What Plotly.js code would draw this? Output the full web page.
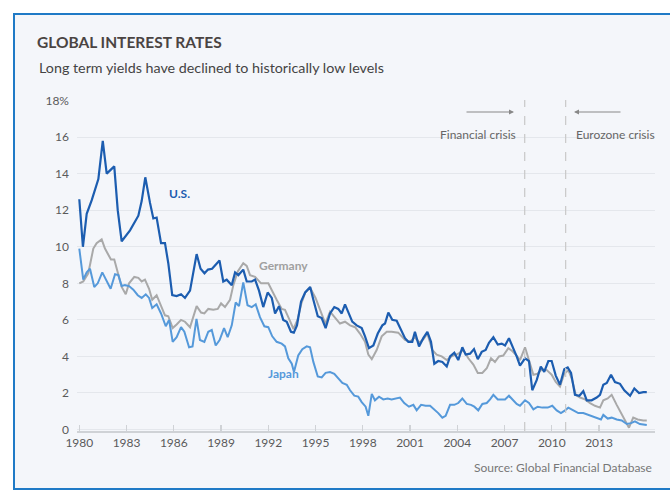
<!DOCTYPE html>
<html>
<head>
<meta charset="utf-8">
<script src="https://cdn.plot.ly/plotly-3.0.1.min.js"></script>
<style>
  html, body { margin:0; padding:0; background:#ffffff; width:670px; height:491px; overflow:hidden; }
  #frame { position:absolute; left:13px; top:13px; width:700px; height:473px;
           border-top:2px solid #1f7ac6; border-left:2px solid #1f7ac6; border-bottom:2px solid #1f7ac6;
           background:#f4f6fa; }
  #chart { position:absolute; left:0; top:0; width:670px; height:491px; }
</style>
</head>
<body>
<div id="frame"></div>
<div id="chart"></div>
<script>
// ---- Data (decimal years, percent) ----
const usYear = [1980.00,1980.23,1980.47,1980.79,1981.21,1981.49,1981.74,1982.22,1982.44,1982.69,1983.22,1983.75,1983.96,1984.19,1984.49,1984.70,1984.91,1985.19,1985.44,1985.65,1985.90,1986.18,1986.46,1986.71,1987.03,1987.45,1987.70,1987.95,1988.17,1988.43,1988.90,1989.14,1989.36,1989.68,1989.89,1990.10,1990.41,1990.63,1990.95,1991.16,1991.41,1991.68,1991.96,1992.22,1992.43,1992.68,1992.95,1993.17,1993.44,1993.62,1993.82,1994.08,1994.34,1994.66,1994.86,1995.14,1995.39,1995.64,1995.92,1996.19,1996.44,1996.66,1996.87,1997.08,1997.33,1997.61,1997.93,1998.14,1998.39,1998.67,1998.95,1999.24,1999.41,1999.62,1999.87,2000.15,2000.36,2000.68,2000.89,2001.14,2001.31,2001.57,2001.84,2002.10,2002.33,2002.54,2002.79,2003.05,2003.33,2003.54,2003.81,2004.06,2004.32,2004.53,2004.81,2005.06,2005.30,2005.55,2005.80,2006.01,2006.29,2006.57,2006.82,2007.03,2007.28,2007.56,2007.77,2007.98,2008.30,2008.55,2008.76,2009.04,2009.30,2009.52,2009.78,2009.99,2010.25,2010.52,2010.79,2011.01,2011.22,2011.47,2011.75,2012.00,2012.22,2012.53,2012.85,2013.06,2013.27,2013.49,2013.76,2014.01,2014.33,2014.60,2014.97,2015.24,2015.54,2015.81,2016.03];
const usRate = [12.6,10.0,11.8,12.55,13.7,15.8,14.0,14.4,12.0,10.3,10.9,11.7,12.5,13.8,12.4,11.55,11.6,10.2,10.2,9.1,7.35,7.3,7.4,7.2,7.6,9.6,8.8,8.55,8.75,8.8,9.25,8.1,8.2,7.9,8.6,8.45,8.75,8.1,8.1,8.2,7.6,6.7,7.5,7.2,6.35,6.75,6.0,5.9,5.35,5.3,5.7,7.0,7.5,7.8,7.1,6.2,6.1,5.55,6.35,6.7,6.6,6.35,6.85,6.45,5.9,5.7,5.55,5.1,4.45,4.6,5.25,5.7,5.8,6.4,6.0,5.95,5.6,5.0,4.8,4.8,5.35,4.55,5.0,5.35,4.8,3.6,3.75,3.7,3.45,4.0,4.2,3.8,4.5,4.1,4.15,4.4,3.85,4.25,4.35,4.75,5.05,4.65,4.7,4.6,5.0,4.45,4.0,3.5,3.9,3.75,2.15,2.7,3.45,3.15,3.75,3.75,2.95,2.45,3.3,3.4,3.1,1.9,1.85,2.1,1.6,1.6,1.75,1.9,2.45,2.55,3.0,2.6,2.5,2.15,1.85,2.25,2.0,2.05,2.05];

const deYear = [1980.00,1980.25,1980.57,1980.89,1981.10,1981.42,1981.63,1981.84,1982.01,1982.22,1982.44,1982.69,1982.95,1983.16,1983.49,1983.75,1983.96,1984.17,1984.43,1984.63,1984.91,1985.19,1985.44,1985.65,1985.93,1986.18,1986.46,1986.71,1987.03,1987.45,1987.73,1987.94,1988.19,1988.51,1988.79,1989.00,1989.25,1989.57,1989.78,1990.06,1990.41,1990.63,1990.84,1991.16,1991.54,1992.00,1992.25,1992.53,1992.85,1993.06,1993.27,1993.60,1993.85,1994.10,1994.35,1994.66,1995.00,1995.30,1995.62,1995.92,1996.24,1996.55,1996.87,1997.19,1997.51,1997.82,1998.14,1998.35,1998.57,1998.88,1999.20,1999.52,1999.83,2000.25,2000.68,2001.00,2001.30,2001.60,2001.85,2002.10,2002.41,2002.69,2003.01,2003.33,2003.64,2004.06,2004.38,2004.70,2005.02,2005.30,2005.59,2005.87,2006.14,2006.39,2006.65,2006.92,2007.24,2007.49,2007.77,2007.98,2008.30,2008.55,2008.83,2009.10,2009.36,2009.68,2009.99,2010.25,2010.52,2010.79,2011.05,2011.26,2011.52,2011.79,2012.11,2012.43,2012.74,2013.06,2013.27,2013.55,2013.80,2014.12,2014.39,2014.65,2014.90,2015.17,2015.45,2015.81,2016.03];
const deRate = [8.0,8.1,8.55,9.9,10.2,10.4,9.9,9.55,9.3,9.3,8.55,7.8,7.4,8.0,8.35,8.3,8.1,8.2,7.7,7.1,7.35,6.8,6.25,6.2,5.55,5.75,6.0,5.9,5.6,6.75,6.4,6.35,6.6,6.55,6.6,6.9,6.7,7.1,7.9,8.65,9.1,8.95,8.45,8.35,8.0,8.0,7.55,7.1,6.6,6.55,6.15,5.5,6.0,6.9,7.5,7.75,7.2,6.55,5.8,6.45,6.15,5.8,5.9,5.7,5.6,5.25,4.8,4.1,3.85,4.35,5.1,5.35,5.35,5.3,4.9,4.8,5.05,4.75,4.95,5.25,4.35,4.1,4.0,3.8,4.0,4.15,4.35,3.9,3.55,3.1,3.1,3.35,3.9,3.7,4.0,4.05,4.45,4.3,4.05,3.8,4.5,3.8,3.0,3.05,3.3,3.25,3.0,2.6,2.35,3.05,3.25,2.8,1.9,1.75,1.65,1.45,1.3,1.2,1.6,1.7,1.9,1.35,0.9,0.45,0.1,0.65,0.55,0.5,0.5];

const jpYear = [1980.00,1980.25,1980.47,1980.68,1980.95,1981.17,1981.46,1981.74,1981.99,1982.27,1982.48,1982.69,1982.90,1983.16,1983.43,1983.71,1983.96,1984.22,1984.43,1984.63,1984.91,1985.19,1985.49,1985.70,1985.93,1986.18,1986.46,1986.67,1986.97,1987.19,1987.44,1987.66,1987.94,1988.19,1988.41,1988.66,1988.91,1989.19,1989.42,1989.68,1989.93,1990.14,1990.41,1990.68,1990.95,1991.20,1991.47,1991.75,1992.00,1992.25,1992.53,1992.85,1993.06,1993.27,1993.49,1993.63,1993.90,1994.16,1994.44,1994.65,1994.86,1995.14,1995.39,1995.64,1995.92,1996.19,1996.44,1996.70,1996.98,1997.19,1997.46,1997.71,1997.93,1998.18,1998.35,1998.57,1998.77,1999.03,1999.30,1999.58,1999.83,2000.09,2000.36,2000.63,2000.93,2001.21,2001.42,2001.70,2001.99,2002.27,2002.54,2002.79,2003.05,2003.26,2003.54,2003.81,2004.06,2004.32,2004.60,2004.87,2005.08,2005.33,2005.59,2005.87,2006.08,2006.29,2006.57,2006.82,2007.03,2007.28,2007.56,2007.77,2007.98,2008.30,2008.55,2008.83,2009.10,2009.40,2009.74,2010.03,2010.31,2010.58,2010.84,2011.05,2011.37,2011.68,2012.00,2012.32,2012.63,2012.85,2013.12,2013.27,2013.55,2013.80,2014.12,2014.44,2014.76,2015.03,2015.28,2015.59,2016.03];
const jpRate = [9.9,8.2,8.6,8.8,7.8,8.0,8.6,8.1,7.7,8.5,8.45,7.85,7.9,7.85,7.65,7.35,7.2,7.4,7.2,6.65,6.85,6.35,5.65,6.0,4.8,5.05,5.6,5.35,4.5,4.55,6.05,4.9,4.8,5.35,5.45,4.6,4.9,5.55,5.05,5.7,6.95,6.75,8.05,6.8,6.7,6.85,6.15,5.65,5.6,5.1,4.8,4.7,4.55,3.9,3.6,3.15,4.05,4.4,4.55,4.5,3.7,2.9,2.85,3.1,3.15,3.05,2.8,2.55,2.45,2.15,1.85,1.8,1.5,1.25,0.75,1.95,1.6,1.8,1.65,1.7,1.65,1.7,1.75,1.45,1.25,1.35,1.05,1.35,1.3,1.3,1.1,0.9,0.65,0.75,1.35,1.35,1.45,1.7,1.4,1.35,1.25,1.05,1.4,1.45,1.65,1.9,1.65,1.65,1.65,1.85,1.6,1.4,1.3,1.6,1.45,1.1,1.25,1.2,1.2,1.3,1.05,0.9,1.05,1.2,1.05,0.9,0.9,0.8,0.7,0.6,0.55,0.8,0.6,0.65,0.55,0.5,0.3,0.35,0.45,0.3,0.25];

const xTickVals = [1980,1983,1986,1989,1992,1995,1998,2001,2004,2007,2010,2013];
const xTickText = ['1980','1983','1986','1989','1992','1995','1998','2001','2004','2007','2010','2013'];
const yTickVals = [0,2,4,6,8,10,12,14,16,18];
const yTickText = ['0','2','4','6','8','10','12','14','16','18%'];
const crisisYears = [2008.28, 2010.88];

const FONT = 'Lato, "Open Sans", sans-serif';

const traces = [
  {x: deYear, y: deRate, type:'scatter', mode:'lines', name:'Germany',
   line:{color:'#a9a9a9', width:2}, hoverinfo:'skip'},
  {x: jpYear, y: jpRate, type:'scatter', mode:'lines', name:'Japan',
   line:{color:'#5599da', width:2}, hoverinfo:'skip'},
  {x: usYear, y: usRate, type:'scatter', mode:'lines', name:'U.S.',
   line:{color:'#1c5db0', width:2.2}, hoverinfo:'skip'}
];

const L = 77, R = 15, T = 100, B = 60;
const PW = 670 - L - R, PH = 491 - T - B;
const px2x = px => (px - L) / PW;
const py2y = py => (491 - B - py) / PH;

const layout = {
  width:670, height:491,
  margin:{l:L, r:R, t:T, b:B, pad:0},
  paper_bgcolor:'rgba(0,0,0,0)', plot_bgcolor:'rgba(0,0,0,0)',
  showlegend:false,
  font:{family:FONT, color:'#555'},
  title:{text:'<b>GLOBAL INTEREST RATES</b>', x:37/670, xanchor:'left', xref:'container',
         y:1-43/491, yanchor:'middle', yref:'container',
         font:{family:FONT, size:15.5, color:'#4a4442'}},
  xaxis:{range:[1979.854, 2016.552], tickvals:xTickVals, ticktext:xTickText,
         showgrid:false, zeroline:false, showline:true, linecolor:'#cfd2d6', linewidth:1.5,
         ticks:'inside', ticklen:6, tickcolor:'#cfd2d6', tickwidth:1.2,
         tickfont:{family:FONT, size:12, color:'#5a5a5a'}},
  yaxis:{range:[-0.08, 18.03], tickvals:yTickVals, ticktext:yTickText,
         showgrid:true, gridcolor:'#e4e7ec', gridwidth:1, zeroline:false, showline:false,
         ticks:'', ticklabelstandoff:7,
         tickfont:{family:FONT, size:12, color:'#5a5a5a'}},
  shapes: crisisYears.map(v => ({type:'line', xref:'x', yref:'paper', x0:v, x1:v, y0:0, y1:1,
         line:{color:'#c8c8c8', width:1.2, dash:'dash'}})),
  annotations:[
    {text:'Long term yields have declined to historically low levels', xref:'paper', yref:'paper',
     x:px2x(37), y:py2y(68), xanchor:'left', yanchor:'middle', showarrow:false,
     font:{family:FONT, size:14.3, color:'#444'}},
    {text:'<b>U.S.</b>', xref:'paper', yref:'paper', x:px2x(167), y:py2y(184), showarrow:false,
     font:{family:FONT, size:12, color:'#1c5db0'}},
    {text:'<b>Germany</b>', xref:'paper', yref:'paper', x:px2x(283), y:py2y(265), showarrow:false,
     font:{family:FONT, size:12, color:'#a0a0a0'}},
    {text:'<b>Japan</b>', xref:'paper', yref:'paper', x:px2x(283), y:py2y(383), showarrow:false,
     font:{family:FONT, size:12, color:'#5599da'}},
    {text:'Financial crisis', xref:'paper', yref:'paper', x:px2x(518), y:py2y(125), xanchor:'right',
     showarrow:false, font:{family:FONT, size:12, color:'#666'}},
    {text:'Eurozone crisis', xref:'paper', yref:'paper', x:px2x(574), y:py2y(125), xanchor:'left',
     showarrow:false, font:{family:FONT, size:12, color:'#666'}},
    {text:'', xref:'paper', yref:'paper', x:px2x(514), y:py2y(112), ax:px2x(465), ay:py2y(112),
     axref:'paper', ayref:'paper', showarrow:true, arrowhead:2, arrowsize:1, arrowwidth:1, arrowcolor:'#888'},
    {text:'', xref:'paper', yref:'paper', x:px2x(574), y:py2y(112), ax:px2x(622), ay:py2y(112),
     axref:'paper', ayref:'paper', showarrow:true, arrowhead:2, arrowsize:1, arrowwidth:1, arrowcolor:'#888'},
    {text:'Source: Global Financial Database', xref:'paper', yref:'paper', x:px2x(654), y:py2y(467),
     xanchor:'right', yanchor:'middle', showarrow:false, font:{family:FONT, size:12, color:'#777'}}
  ]
};

Plotly.newPlot('chart', traces, layout, {staticPlot:true, displayModeBar:false});
</script>
</body>
</html>
